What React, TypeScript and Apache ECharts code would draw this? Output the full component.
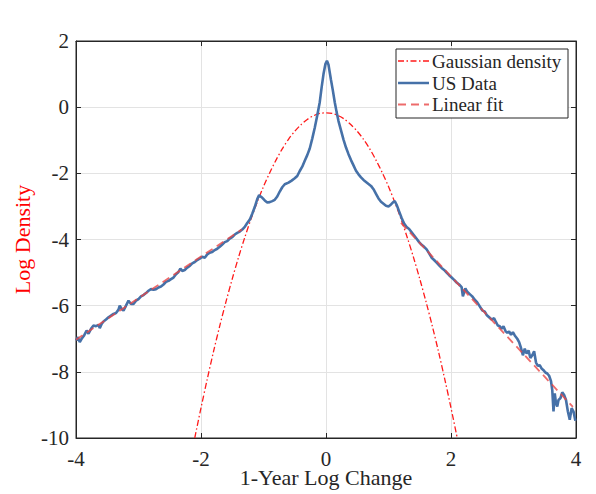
import React, { useEffect, useRef } from "react";
import * as echarts from "echarts";

const xTicks = [-4, -2, 0, 2, 4];
const yTicks = [2, 0, -2, -4, -6, -8, -10];

const gaussX = [
  -2.1, -2.0, -1.9, -1.8, -1.7, -1.6, -1.5, -1.4, -1.3, -1.2, -1.1, -1.0, -0.9, -0.8, -0.7, -0.6, -0.5, -0.4, -0.3, -0.2, -0.1,
  0.0, 0.1, 0.2, 0.3, 0.4, 0.5, 0.6, 0.7, 0.8, 0.9, 1.0, 1.1, 1.2, 1.3, 1.4, 1.5, 1.6, 1.7, 1.8, 1.9, 2.0, 2.1,
];
const gaussY = [
  -10.0, -9.09, -8.22, -7.39, -6.61, -5.88, -5.19, -4.54, -3.94, -3.38, -2.87, -2.4, -1.98, -1.6, -1.26, -0.97, -0.73, -0.53, -0.37, -0.26, -0.19,
  -0.17, -0.19, -0.26, -0.37, -0.53, -0.73, -0.97, -1.26, -1.6, -1.98, -2.4, -2.87, -3.38, -3.94, -4.54, -5.19, -5.88, -6.61, -7.39, -8.22, -9.09, -10.0,
];

const usData: [number, number][] = [
  [-4.0, -7.05], [-3.97, -6.95], [-3.94, -7.1], [-3.91, -7.0], [-3.87, -6.9], [-3.83, -6.75], [-3.8, -6.85], [-3.76, -6.7],
  [-3.72, -6.6], [-3.68, -6.62], [-3.64, -6.58], [-3.62, -6.68], [-3.59, -6.55], [-3.56, -6.48], [-3.52, -6.42], [-3.48, -6.35],
  [-3.44, -6.3], [-3.4, -6.25], [-3.36, -6.22], [-3.32, -6.12], [-3.3, -6.0], [-3.27, -6.1], [-3.24, -6.15], [-3.2, -6.0],
  [-3.16, -5.85], [-3.12, -5.95], [-3.08, -5.95], [-3.04, -5.85], [-3.0, -5.8], [-2.96, -5.72], [-2.92, -5.68], [-2.88, -5.62],
  [-2.84, -5.55], [-2.8, -5.5], [-2.76, -5.52], [-2.72, -5.5], [-2.68, -5.45], [-2.64, -5.42], [-2.6, -5.36], [-2.56, -5.28],
  [-2.52, -5.25], [-2.48, -5.2], [-2.44, -5.15], [-2.4, -5.05], [-2.36, -4.98], [-2.33, -4.88], [-2.3, -4.95], [-2.26, -4.92],
  [-2.22, -4.85], [-2.18, -4.8], [-2.14, -4.72], [-2.1, -4.68], [-2.06, -4.62], [-2.02, -4.58], [-1.98, -4.52], [-1.94, -4.55],
  [-1.9, -4.45], [-1.86, -4.4], [-1.82, -4.38], [-1.78, -4.32], [-1.74, -4.28], [-1.7, -4.22], [-1.66, -4.15], [-1.62, -4.08],
  [-1.58, -4.05], [-1.54, -3.97], [-1.5, -3.93], [-1.46, -3.85], [-1.42, -3.8], [-1.38, -3.76], [-1.34, -3.7], [-1.3, -3.62],
  [-1.26, -3.5], [-1.22, -3.4], [-1.18, -3.22], [-1.14, -3.02], [-1.1, -2.78], [-1.07, -2.66], [-1.03, -2.72], [-0.98, -2.82],
  [-0.94, -2.88], [-0.9, -2.87], [-0.86, -2.84], [-0.82, -2.8], [-0.78, -2.7], [-0.74, -2.55], [-0.7, -2.42], [-0.66, -2.33],
  [-0.6, -2.28], [-0.55, -2.22], [-0.5, -2.15], [-0.46, -2.08], [-0.42, -1.93], [-0.38, -1.8], [-0.34, -1.62], [-0.3, -1.45],
  [-0.26, -1.25], [-0.22, -0.95], [-0.18, -0.62], [-0.14, -0.25], [-0.1, 0.15], [-0.07, 0.6], [-0.04, 1.0], [-0.01, 1.3],
  [0.015, 1.4], [0.04, 1.28], [0.06, 1.05], [0.08, 0.82], [0.11, 0.5], [0.14, 0.15], [0.17, -0.15], [0.2, -0.42],
  [0.24, -0.7], [0.28, -0.98], [0.32, -1.22], [0.36, -1.42], [0.4, -1.6], [0.44, -1.76], [0.48, -1.92], [0.52, -2.03],
  [0.56, -2.12], [0.6, -2.2], [0.64, -2.26], [0.68, -2.32], [0.72, -2.38], [0.76, -2.48], [0.8, -2.62], [0.84, -2.76],
  [0.88, -2.86], [0.92, -2.92], [0.96, -2.98], [1.0, -3.0], [1.04, -2.94], [1.08, -2.86], [1.1, -2.84], [1.13, -2.95],
  [1.17, -3.15], [1.21, -3.35], [1.25, -3.52], [1.29, -3.62], [1.33, -3.68], [1.37, -3.78], [1.41, -3.88], [1.45, -3.98],
  [1.49, -4.08], [1.53, -4.16], [1.57, -4.22], [1.61, -4.3], [1.65, -4.42], [1.69, -4.55], [1.73, -4.62], [1.77, -4.7],
  [1.81, -4.78], [1.85, -4.86], [1.89, -4.92], [1.93, -5.0], [1.97, -5.08], [2.01, -5.15], [2.05, -5.22], [2.09, -5.3],
  [2.13, -5.36], [2.17, -5.44], [2.19, -5.72], [2.21, -5.6], [2.23, -5.48], [2.26, -5.58], [2.3, -5.65], [2.34, -5.72],
  [2.38, -5.82], [2.42, -5.9], [2.46, -6.02], [2.5, -6.14], [2.54, -6.18], [2.57, -6.28], [2.61, -6.35], [2.65, -6.42],
  [2.69, -6.38], [2.72, -6.5], [2.75, -6.6], [2.78, -6.62], [2.81, -6.7], [2.84, -6.62], [2.87, -6.76], [2.9, -6.82],
  [2.93, -6.78], [2.96, -6.88], [2.99, -6.8], [3.02, -6.9], [3.06, -7.0], [3.09, -7.1], [3.12, -7.28], [3.15, -7.5],
  [3.18, -7.3], [3.21, -7.45], [3.24, -7.35], [3.27, -7.58], [3.3, -7.5], [3.33, -7.38], [3.36, -7.72], [3.39, -7.82],
  [3.42, -7.8], [3.45, -7.9], [3.48, -7.95], [3.51, -8.02], [3.54, -8.05], [3.57, -8.12], [3.6, -8.28], [3.62, -8.55],
  [3.64, -9.2], [3.66, -8.65], [3.68, -8.95], [3.7, -9.05], [3.72, -8.85], [3.75, -8.8], [3.78, -8.62], [3.81, -8.7],
  [3.84, -8.85], [3.87, -9.2], [3.9, -9.45], [3.93, -9.1], [3.96, -9.2], [3.99, -9.48],
];

const linearFitLeft: [number, number][] = [[-4.0, -7.03], [-1.35, -3.7]];
const linearFitRight: [number, number][] = [[1.2, -3.5], [3.95, -9.06]];

const legendNames = ["Gaussian density", "US Data", "Linear fit"];

const FONT = "'Liberation Serif', 'Times New Roman', serif";
const AXIS = "#262626";
const BLUE = "#4671a8";
const GAUSS_RED = "#ff1a1a";
const FIT_RED = "rgba(232,70,70,0.8)";

export default function App() {
  const ref = useRef<HTMLDivElement>(null);
  useEffect(() => {
    if (!ref.current) return;
    const chart = echarts.init(ref.current, null, { renderer: "svg" });
    const gaussData = gaussX.map((x, i) => [x, gaussY[i]]);
    const tickStyle = { show: true, inside: true, length: 5, lineStyle: { color: AXIS, width: 1 } };
    const legendY = [61, 83, 104.5];
    const legendStyles = [
      { stroke: GAUSS_RED, lineWidth: 1.3, lineDash: [6, 2.5, 1.5, 2.5] },
      { stroke: BLUE, lineWidth: 2.5 },
      { stroke: FIT_RED, lineWidth: 1.8, lineDash: [8, 5] },
    ];
    chart.setOption({
      animation: false,
      backgroundColor: "#ffffff",
      grid: {
        left: 76, right: 20, top: 41, bottom: 56,
        containLabel: false, outerBoundsMode: "none",
        show: true, borderColor: AXIS, borderWidth: 1, backgroundColor: "transparent",
      },
      xAxis: [
        {
          type: "value",
          min: xTicks[0],
          max: xTicks[xTicks.length - 1],
          interval: 2,
          name: "1-Year Log Change",
          nameLocation: "middle",
          nameGap: 30,
          nameMoveOverlap: false,
          nameTextStyle: { fontFamily: FONT, fontSize: 22, lineHeight: 18, color: AXIS },
          axisLine: { show: true, onZero: false, lineStyle: { color: AXIS, width: 1 } },
          axisTick: tickStyle,
          axisLabel: { fontFamily: FONT, fontSize: 21, lineHeight: 17, color: AXIS, margin: 12 },
          splitLine: { show: true, lineStyle: { color: "#e3e3e3", width: 1 } },
        },
        {
          type: "value",
          position: "top",
          min: xTicks[0],
          max: xTicks[xTicks.length - 1],
          interval: 2,
          axisLine: { show: true, onZero: false, lineStyle: { color: AXIS, width: 1 } },
          axisTick: tickStyle,
          axisLabel: { show: false },
          splitLine: { show: false },
        },
      ],
      yAxis: [
        {
          type: "value",
          min: yTicks[yTicks.length - 1],
          max: yTicks[0],
          interval: 2,
          name: "Log Density",
          nameLocation: "middle",
          nameGap: 43,
          nameMoveOverlap: false,
          nameTextStyle: { fontFamily: FONT, fontSize: 22, color: "#ff0000" },
          axisLine: { show: true, onZero: false, lineStyle: { color: AXIS, width: 1 } },
          axisTick: tickStyle,
          axisLabel: { fontFamily: FONT, fontSize: 21, color: AXIS, margin: 7 },
          splitLine: { show: true, lineStyle: { color: "#e3e3e3", width: 1 } },
        },
        {
          type: "value",
          position: "right",
          min: yTicks[yTicks.length - 1],
          max: yTicks[0],
          interval: 2,
          axisLine: { show: true, onZero: false, lineStyle: { color: AXIS, width: 1 } },
          axisTick: tickStyle,
          axisLabel: { show: false },
          splitLine: { show: false },
        },
      ],
      series: [
        {
          name: legendNames[0],
          type: "line",
          data: gaussData,
          symbol: "none",
          smooth: 0.3,
          lineStyle: { color: GAUSS_RED, width: 1.3, type: [6, 2.5, 1.5, 2.5] },
          z: 2,
        },
        {
          name: legendNames[1],
          type: "line",
          data: usData,
          symbol: "none",
          lineStyle: { color: BLUE, width: 2.6 },
          z: 3,
        },
        {
          name: legendNames[2],
          type: "line",
          data: linearFitLeft,
          symbol: "none",
          lineStyle: { color: FIT_RED, width: 1.8, type: [8, 5] },
          z: 4,
        },
        {
          name: legendNames[2] + " ",
          type: "line",
          data: linearFitRight,
          symbol: "none",
          lineStyle: { color: FIT_RED, width: 1.8, type: [8, 5] },
          z: 4,
        },
      ],
      graphic: [
        {
          type: "rect",
          z: 100,
          shape: { x: 396, y: 49, width: 172, height: 69 },
          style: { fill: "#ffffff", stroke: AXIS, lineWidth: 1 },
        },
        ...legendNames.flatMap((name, i) => [
          {
            type: "line",
            z: 101,
            shape: { x1: 398, y1: legendY[i], x2: 429, y2: legendY[i] },
            style: { ...legendStyles[i], fill: null },
          },
          {
            type: "text",
            z: 101,
            x: 432,
            y: legendY[i],
            style: { text: name, font: `19px ${FONT}`, fill: AXIS, verticalAlign: "middle" },
          },
        ]),
      ],
    });
    return () => chart.dispose();
  }, []);
  return <div ref={ref} style={{ position: "fixed", left: 0, top: 0, width: 596, height: 494, background: "#fff" }} />;
}
